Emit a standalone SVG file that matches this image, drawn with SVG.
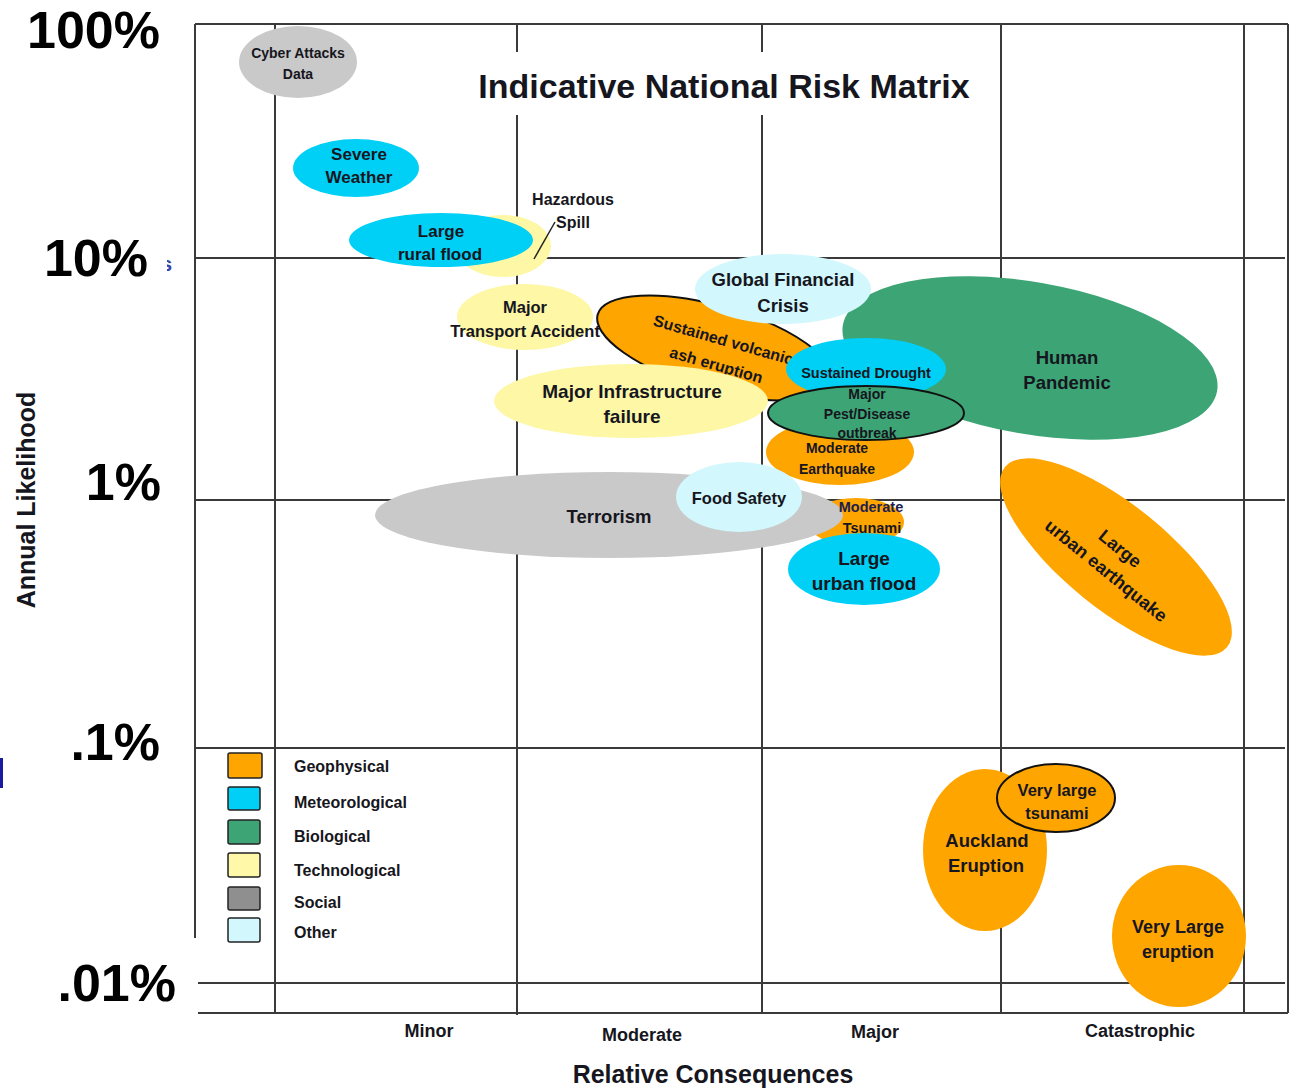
<svg xmlns="http://www.w3.org/2000/svg" width="1291" height="1088" viewBox="0 0 1291 1088">
<defs>
<style>
.g{stroke:#3a3a3a;stroke-width:2;fill:none}
.t{font-family:"Liberation Sans",Arial,sans-serif;font-weight:bold;fill:#161620;text-anchor:middle}
.ax{font-family:"Liberation Sans",Arial,sans-serif;font-weight:bold;fill:#000}
.geo{fill:#ffa500}
.met{fill:#00cff6}
.bio{fill:#3da575}
.tec{fill:#fdf7a6}
.soc{fill:#c9c9c9}
.oth{fill:#d2f7fc}
.ol{stroke:#111;stroke-width:2}
.lg{stroke:#222;stroke-width:1.5}
.st{text-anchor:start}
</style>
<clipPath id="sclip"><rect x="167" y="250" width="10" height="30"/></clipPath>
</defs>
<rect width="1291" height="1088" fill="#fff"/>

<g id="grid">
<path class="g" d="M195 24H1288M195 258H1285M195 500H1285M195 748H1285M198 983H1285M198 1013H1288"/>
<path class="g" d="M195 24V938M275 24V1013M517 24V52M517 115V1015M762 24V52M762 115V1013M1001 24V1013M1244 24V1013M1288 24V1013"/>
</g>

<g id="axes">
<text class="ax" x="160" y="48" font-size="52" text-anchor="end">100%</text>
<text class="ax" x="148" y="276" font-size="52" text-anchor="end">10%</text>
<text class="ax" x="161" y="500" font-size="52" text-anchor="end">1%</text>
<text class="ax" x="160" y="760" font-size="52" text-anchor="end">.1%</text>
<text class="ax" x="176" y="1001" font-size="52" text-anchor="end">.01%</text>
<text class="ax" x="161" y="271" font-size="20" clip-path="url(#sclip)" style="fill:#3344aa">s</text>
<rect x="0" y="758" width="3" height="30" fill="#1a1aa0"/>
<text class="t" transform="translate(35,500) rotate(-90)" font-size="25">Annual Likelihood</text>
<text class="t" x="724" y="98" font-size="34">Indicative National Risk Matrix</text>
<text class="t" x="429" y="1037" font-size="18">Minor</text>
<text class="t" x="642" y="1041" font-size="18">Moderate</text>
<text class="t" x="875" y="1038" font-size="18">Major</text>
<text class="t" x="1140" y="1037" font-size="18">Catastrophic</text>
<text class="t" x="713" y="1083" font-size="25">Relative Consequences</text>
</g>

<g id="hazardous-spill">
<ellipse class="tec" cx="503" cy="246" rx="48" ry="31"/>
<text class="t" x="573" y="205" font-size="16">Hazardous</text>
<text class="t" x="573" y="228" font-size="16">Spill</text>
</g>

<g id="connectors">
<line x1="555" y1="222" x2="534" y2="259" stroke="#222" stroke-width="1.5"/>
</g>

<g id="cyber-attacks">
<ellipse class="soc" cx="298" cy="62" rx="59" ry="36"/>
<text class="t" x="298" y="58" font-size="14">Cyber Attacks</text>
<text class="t" x="298" y="79" font-size="14">Data</text>
</g>

<g id="severe-weather">
<ellipse class="met" cx="356" cy="168" rx="63" ry="29"/>
<text class="t" x="359" y="160" font-size="17">Severe</text>
<text class="t" x="359" y="183" font-size="17">Weather</text>
</g>

<g id="large-rural-flood">
<ellipse class="met" cx="441" cy="240" rx="92" ry="27"/>
<text class="t" x="441" y="237" font-size="17">Large</text>
<text class="t" x="440" y="260" font-size="17">rural flood</text>
</g>

<g id="major-transport-accident">
<ellipse class="tec" cx="525" cy="317" rx="68" ry="33"/>
<text class="t" x="525" y="313" font-size="16.5">Major</text>
<text class="t" x="525" y="337" font-size="16.5">Transport Accident</text>
</g>

<g id="human-pandemic">
<ellipse class="bio" cx="1030" cy="358" rx="190" ry="76" transform="rotate(10 1030 358)"/>
<text class="t" x="1067" y="364" font-size="18.5">Human</text>
<text class="t" x="1067" y="389" font-size="18.5">Pandemic</text>
</g>

<g id="sustained-volcanic-ash">
<ellipse class="geo ol" cx="715" cy="348" rx="122" ry="42" transform="rotate(16 715 348)"/>
<g transform="translate(720,352) rotate(16)">
<text class="t" x="0" y="-7" font-size="16">Sustained volcanic</text>
<text class="t" x="0" y="19" font-size="16">ash eruption</text>
</g>
</g>

<g id="global-financial-crisis">
<ellipse class="oth" cx="783" cy="289" rx="88" ry="35"/>
<text class="t" x="783" y="286" font-size="18.5">Global Financial</text>
<text class="t" x="783" y="312" font-size="18.5">Crisis</text>
</g>

<g id="major-infrastructure-failure">
<ellipse class="tec" cx="631" cy="401" rx="137" ry="37"/>
<text class="t" x="632" y="398" font-size="19">Major Infrastructure</text>
<text class="t" x="632" y="423" font-size="19">failure</text>
</g>

<g id="moderate-earthquake">
<ellipse class="geo" cx="840" cy="452" rx="74" ry="33"/>
<text class="t" x="837" y="453" font-size="14">Moderate</text>
<text class="t" x="837" y="474" font-size="14">Earthquake</text>
</g>

<g id="sustained-drought">
<ellipse class="met" cx="866" cy="369" rx="80" ry="31"/>
<text class="t" x="866" y="378" font-size="14.5">Sustained Drought</text>
</g>

<g id="major-pest-disease">
<ellipse class="bio ol" cx="866" cy="413" rx="98" ry="27"/>
<text class="t" x="867" y="399" font-size="14">Major</text>
<text class="t" x="867" y="419" font-size="14">Pest/Disease</text>
<text class="t" x="867" y="438" font-size="14">outbreak</text>
</g>

<g id="moderate-tsunami">
<ellipse class="geo" cx="856" cy="522" rx="48" ry="24"/>
</g>

<g id="terrorism">
<ellipse class="soc" cx="609" cy="515" rx="234" ry="43"/>
<text class="t" x="609" y="523" font-size="18.5">Terrorism</text>
</g>

<g id="moderate-tsunami-label">
<text class="t" x="871" y="512" font-size="14.5" style="fill:#1c2050">Moderate</text>
<text class="t" x="872" y="533" font-size="14.5">Tsunami</text>
</g>

<g id="food-safety">
<ellipse class="oth" cx="739" cy="497" rx="63" ry="35"/>
<text class="t" x="739" y="504" font-size="16.5">Food Safety</text>
</g>

<g id="large-urban-flood">
<ellipse class="met" cx="864" cy="569" rx="76" ry="36"/>
<text class="t" x="864" y="565" font-size="19">Large</text>
<text class="t" x="864" y="590" font-size="19">urban flood</text>
</g>

<g id="large-urban-earthquake">
<ellipse class="geo" cx="1116" cy="557" rx="143" ry="52" transform="rotate(39 1116 557)"/>
<g transform="translate(1116,557) rotate(39)">
<text class="t" x="-2" y="-3" font-size="18">Large</text>
<text class="t" x="1" y="23" font-size="18">urban earthquake</text>
</g>
</g>

<g id="auckland-eruption">
<ellipse class="geo" cx="985" cy="850" rx="62" ry="81"/>
<text class="t" x="987" y="847" font-size="18.5">Auckland</text>
<text class="t" x="986" y="872" font-size="18.5">Eruption</text>
</g>

<g id="very-large-tsunami">
<ellipse class="geo ol" cx="1056" cy="798" rx="59" ry="34"/>
<text class="t" x="1057" y="796" font-size="16.5">Very large</text>
<text class="t" x="1057" y="819" font-size="16.5">tsunami</text>
</g>

<g id="very-large-eruption">
<ellipse class="geo" cx="1179" cy="936" rx="67" ry="71"/>
<text class="t" x="1178" y="933" font-size="18">Very Large</text>
<text class="t" x="1178" y="958" font-size="18">eruption</text>
</g>

<g id="legend">
<rect class="lg" x="228" y="753" width="34" height="25" rx="2" fill="#ffa500"/>
<rect class="lg" x="228" y="787" width="32" height="23" rx="2" fill="#00cff6"/>
<rect class="lg" x="228" y="820" width="32" height="24" rx="2" fill="#3da575"/>
<rect class="lg" x="228" y="853" width="32" height="24" rx="2" fill="#fff8a8"/>
<rect class="lg" x="228" y="887" width="32" height="23" rx="2" fill="#8f8f8f"/>
<rect class="lg" x="228" y="918" width="32" height="24" rx="2" fill="#d2f7fc"/>
<text class="t st" x="294" y="772" font-size="16">Geophysical</text>
<text class="t st" x="294" y="808" font-size="16">Meteorological</text>
<text class="t st" x="294" y="842" font-size="16">Biological</text>
<text class="t st" x="294" y="876" font-size="16">Technological</text>
<text class="t st" x="294" y="908" font-size="16">Social</text>
<text class="t st" x="294" y="938" font-size="16">Other</text>
</g>
</svg>
